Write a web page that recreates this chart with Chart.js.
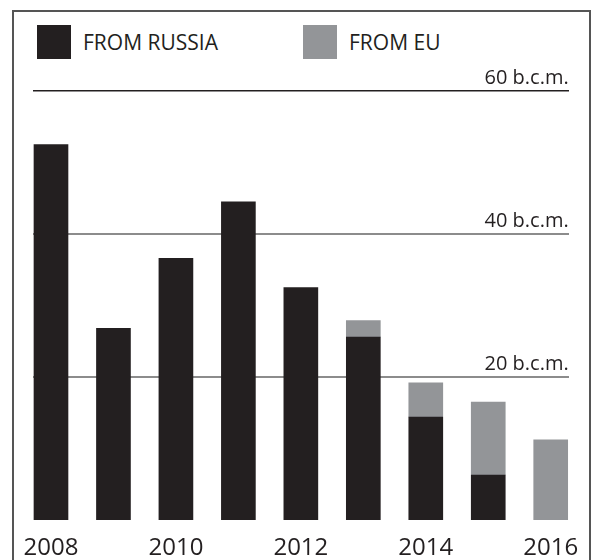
<!DOCTYPE html>
<html>
<head>
<meta charset="utf-8">
<script src="https://cdn.jsdelivr.net/npm/chart.js@4.4.1/dist/chart.umd.min.js"></script>
<style>
  html, body { margin: 0; padding: 0; background: #fff; overflow: hidden; }
  body { width: 595px; height: 560px; position: relative; font-family: 'Open Sans', sans-serif; }
  #frame { position: absolute; left: 12px; top: 10px; width: 575px; height: 600px; border: 2px solid #555; border-bottom: none; }
  #c { position: absolute; left: 0; top: 0; }
  .leg { position: absolute; top: 25px; height: 34px; display: flex; align-items: center; font-size: 21px; color: #231f20; white-space: nowrap; }
  .leg .box { width: 34px; height: 34px; margin-right: 12px; }
</style>
</head>
<body>
<div id="frame"></div>
<div class="leg" id="leg0" style="left:37px"><span class="box"></span><span class="txt"></span></div>
<div class="leg" id="leg1" style="left:303px"><span class="box"></span><span class="txt"></span></div>
<canvas id="c" width="595" height="577"></canvas>
<script>
// ---- data ----
const years = [2008, 2009, 2010, 2011, 2012, 2013, 2014, 2015, 2016];
const fromRussia = [52.5, 26.8, 36.6, 44.5, 32.5, 25.6, 14.4, 6.3, null];
const fromEU = [null, null, null, null, null, 2.3, 4.8, 10.2, 11.2];
const seriesNames = ['FROM RUSSIA', 'FROM EU'];
const xTickLabels = [2008, 2010, 2012, 2014, 2016];
const yTickValues = [20, 40, 60];
const yUnit = 'b.c.m.';

const colors = ['#231f20', '#939598'];

// HTML legend
seriesNames.forEach((n, i) => {
  const el = document.getElementById('leg' + i);
  el.querySelector('.box').style.background = colors[i];
  el.querySelector('.txt').textContent = n;
});

const toPoints = arr => arr.map((v, i) => ({ x: years[i], y: v })).filter(p => p.y !== null);

new Chart(document.getElementById('c'), {
  type: 'bar',
  data: {
    datasets: [
      { label: seriesNames[0], data: toPoints(fromRussia), backgroundColor: colors[0], borderWidth: 0, barThickness: 34 },
      { label: seriesNames[1], data: toPoints(fromEU), backgroundColor: colors[1], borderWidth: 0, barThickness: 34 }
    ]
  },
  options: {
    responsive: false,
    devicePixelRatio: 1,
    animation: false,
    layout: { padding: { left: 33, right: 25, top: 91, bottom: 1 } },
    plugins: { legend: { display: false }, tooltip: { enabled: false } },
    scales: {
      x: {
        type: 'linear',
        stacked: true,
        offset: false,
        min: 2007.712,
        max: 2016.288,
        grid: { display: false, drawTicks: false, offset: false },
        border: { display: false },
        afterBuildTicks: s => { s.ticks = xTickLabels.map(v => ({ value: v })); },
        ticks: {
          autoSkip: false, maxRotation: 0, includeBounds: false,
          padding: 16,
          color: '#231f20',
          font: { family: "'Open Sans'", size: 24, lineHeight: 1 },
          callback: v => String(v)
        }
      },
      y: {
        position: 'right',
        stacked: true,
        min: 0,
        max: 60,
        border: { display: false },
        grid: {
          drawTicks: false,
          color: c => (c.tick && c.tick.value === 60) ? '#231f20' : '#8c8c8c',
          lineWidth: c => (c.tick && c.tick.value === 60) ? 1.5 : 2
        },
        afterBuildTicks: s => { s.ticks = yTickValues.map(v => ({ value: v })); },
        ticks: {
          mirror: true,
          padding: 0,
          labelOffset: -13,
          color: '#231f20',
          font: { family: "'Open Sans'", size: 20 },
          callback: v => v + ' ' + yUnit
        }
      }
    }
  }
});
</script>
</body>
</html>
